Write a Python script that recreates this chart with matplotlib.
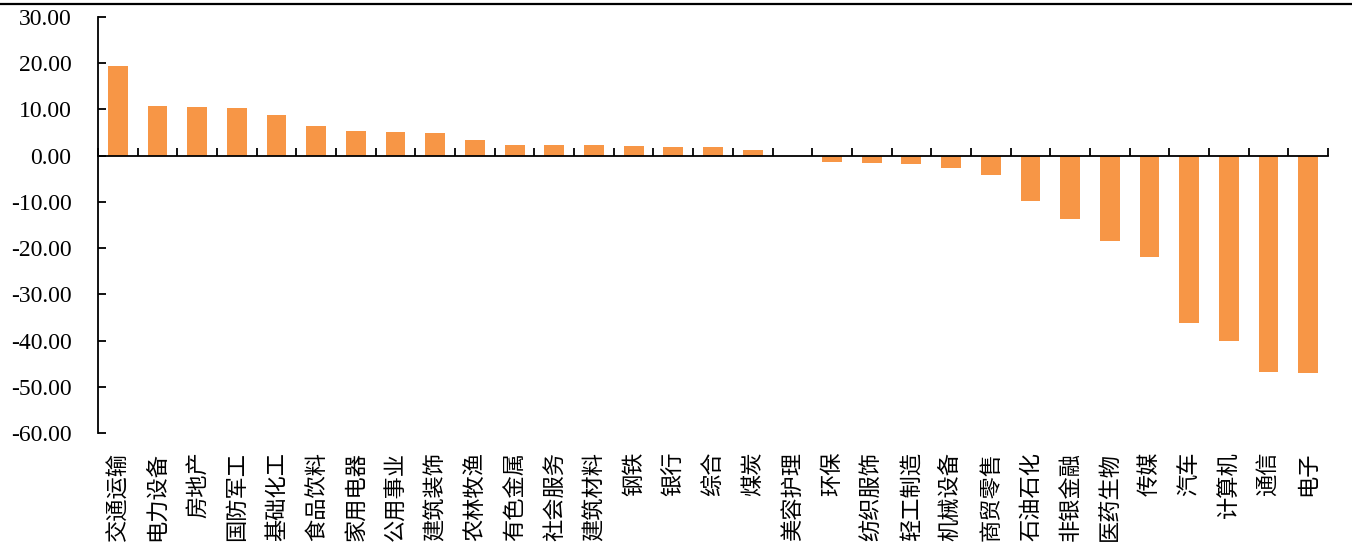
import numpy as np
import matplotlib.pyplot as plt
from matplotlib.lines import Line2D
import matplotlib.transforms as mtransforms

industries = ['交通运输', '电力设备', '房地产', '国防军工', '基础化工', '食品饮料',
              '家用电器', '公用事业', '建筑装饰', '农林牧渔', '有色金属', '社会服务',
              '建筑材料', '钢铁', '银行', '综合', '煤炭', '美容护理', '环保',
              '纺织服饰', '轻工制造', '机械设备', '商贸零售', '石油石化', '非银金融',
              '医药生物', '传媒', '汽车', '计算机', '通信', '电子']
values = [19.5, 10.8, 10.6, 10.4, 8.9, 6.5, 5.4, 5.2, 4.8, 3.3, 2.4, 2.4,
          2.2, 2.0, 1.9, 1.8, 1.3, -0.15, -1.3, -1.5, -1.8, -2.7, -4.2, -9.7,
          -13.8, -18.5, -22.0, -36.2, -40.0, -46.7, -47.1]
yticks = [30, 20, 10, 0, -10, -20, -30, -40, -50, -60]

serif = ['Liberation Serif', 'DejaVu Serif']
cjk = ['Noto Sans CJK SC', 'DejaVu Sans']

fig = plt.figure(figsize=(13.52, 5.46), dpi=100)
ax = fig.add_axes([98 / 1352, 1 - 433 / 546, (1328 - 98) / 1352, (433 - 17) / 546])

x = np.arange(len(industries))
ax.bar(x, values, width=0.5, color='#F79646', zorder=2)

ax.set_xlim(-0.5, len(industries) - 0.5)
ax.set_ylim(-60, 30)
ax.set_yticks(yticks)
ax.set_yticklabels([f'{v:.2f}' for v in yticks], fontfamily=serif, fontsize=17)

# x axis sits on zero, ticks at category boundaries
ax.spines['top'].set_visible(False)
ax.spines['right'].set_visible(False)
ax.spines['bottom'].set_position(('data', 0))
ax.spines['bottom'].set_linewidth(1.3)
ax.spines['left'].set_linewidth(1.3)
ax.set_xticks(np.arange(len(industries) + 1) - 0.5)
ax.set_xticklabels([])
ax.tick_params(axis='x', direction='in', length=6, width=1.3)
ax.tick_params(axis='y', direction='in', length=6, width=1.3, pad=19)

# category names under the plot, read bottom to top
trans = mtransforms.blended_transform_factory(ax.transData, ax.transAxes)
for i, name in enumerate(industries):
    ax.text(i, -0.045, name, transform=trans, rotation=90, ha='center',
            va='top', fontsize=16, family=cjk)

fig.add_artist(Line2D([0, 1], [1 - 4 / 546, 1 - 4 / 546], color='black', lw=1.6))

plt.savefig('out.png', dpi=100)
plt.close()
